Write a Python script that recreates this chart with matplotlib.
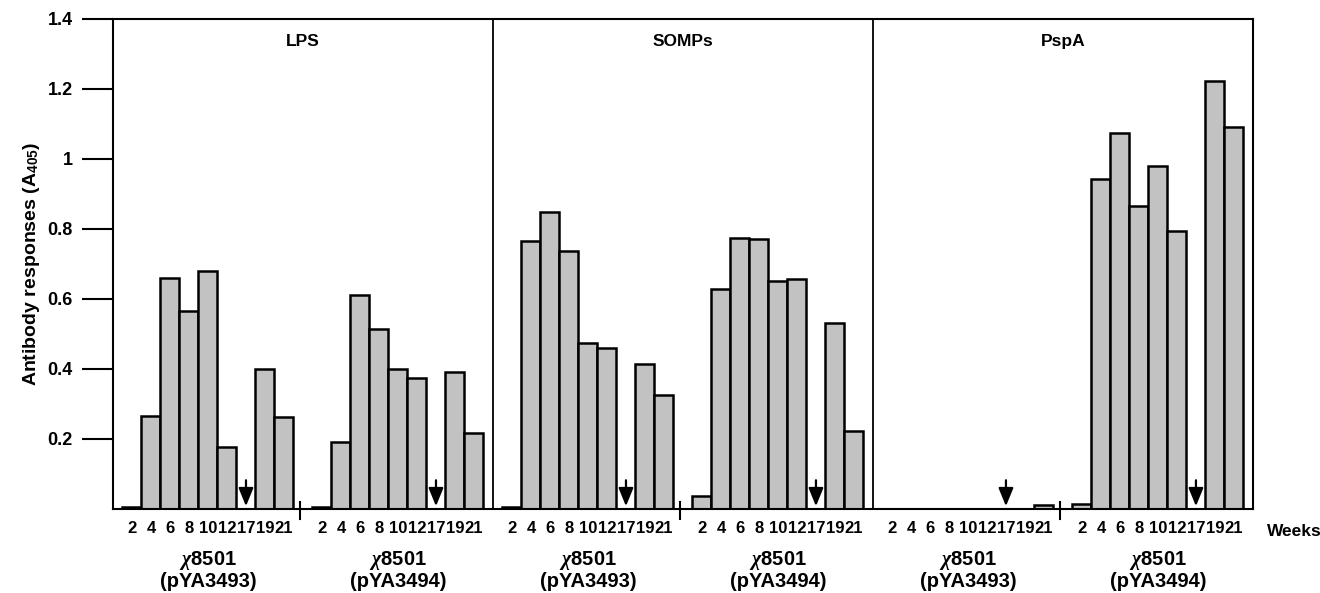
import numpy as np
import matplotlib.pyplot as plt

plt.rcParams['font.family'] = ['Liberation Sans', 'DejaVu Sans']
plt.rcParams['font.weight'] = 'bold'
plt.rcParams['axes.labelweight'] = 'bold'
plt.rcParams['mathtext.fontset'] = 'custom'
plt.rcParams['mathtext.rm'] = 'Liberation Sans:bold'
plt.rcParams['mathtext.bf'] = 'Liberation Sans:bold'
plt.rcParams['mathtext.it'] = 'Liberation Serif:italic'

weeks = [2, 4, 6, 8, 10, 12, 17, 19, 21]
arrow_week = 17
panels = ['LPS', 'SOMPs', 'PspA']
strains = ['(pYA3493)', '(pYA3494)']

# values per week, None where the arrow is (week 17)
lps_3493 = [0.005, 0.266, 0.66, 0.565, 0.68, 0.177, None, 0.40, 0.263]
lps_3494 = [0.005, 0.19, 0.611, 0.514, 0.40, 0.374, None, 0.39, 0.217]
somps_3493 = [0.005, 0.766, 0.849, 0.736, 0.475, 0.46, None, 0.414, 0.326]
somps_3494 = [0.037, 0.629, 0.774, 0.771, 0.652, 0.657, None, 0.531, 0.223]
pspa_3493 = [0, 0, 0, 0, 0, 0, None, 0, 0.012]
pspa_3494 = [0.014, 0.943, 1.074, 0.866, 0.98, 0.795, None, 1.223, 1.091]

data = [[lps_3493, lps_3494], [somps_3493, somps_3494], [pspa_3493, pspa_3494]]

fig = plt.figure(figsize=(13.2, 5.93), dpi=100)
ax = fig.add_axes([0.0856, 0.1417, 0.8636, 0.8263])

xticks, xlabels = [], []
for p, name in enumerate(panels):
    for g in range(2):
        vals = data[p][g]
        start = 20 * p + 10 * g + 1
        for i, (w, v) in enumerate(zip(weeks, vals)):
            x = start + i
            xticks.append(x)
            xlabels.append(str(w))
            if w == arrow_week:
                ax.annotate('', xy=(x, 0), xytext=(x, 0.09),
                            arrowprops=dict(arrowstyle='-|>,head_length=1.1,head_width=0.45',
                                            color='black', lw=1.6))
            elif v > 0:
                ax.bar(x, v, width=1.0, color='#c2c2c2', edgecolor='black', linewidth=1.8)
        # strain label under each group
        cx = start + 4
        ax.text(cx, -0.146, r'$\chi$8501', ha='center', va='center', fontsize=14.5,
                fontweight='bold', clip_on=False)
        ax.text(cx, -0.207, strains[g], ha='center', va='center', fontsize=14.5,
                fontweight='bold', clip_on=False)
    # small separator tick between the two groups
    ax.plot([20 * p + 9.85] * 2, [-0.03, 0.02], color='black', lw=1.5, clip_on=False)
    if p > 0:
        ax.axvline(20 * p, color='black', lw=1.3)
    ax.text(20 * p + 10, 1.335, name, ha='center', va='center', fontsize=12.5, fontweight='bold')

ax.set_xlim(0, 60)
ax.set_ylim(0, 1.4)
ax.set_xticks(xticks)
ax.set_xticklabels(xlabels, fontsize=12, fontweight='bold')
ax.tick_params(axis='x', length=0, pad=9)
ax.set_yticks([0.2, 0.4, 0.6, 0.8, 1.0, 1.2, 1.4])
ax.set_yticklabels(['0.2', '0.4', '0.6', '0.8', '1', '1.2', '1.4'], fontsize=13, fontweight='bold')
ax.tick_params(axis='y', length=22, width=1.5, pad=7)
for s in ax.spines.values():
    s.set_linewidth(1.5)

ax.set_ylabel(r'Antibody responses (A$_{405}$)', fontsize=14, fontweight='bold', labelpad=4)
ax.text(60.75, -0.065, 'Weeks', ha='left', va='center', fontsize=12.5, fontweight='bold',
        clip_on=False)

fig.savefig('out.png', dpi=100)
